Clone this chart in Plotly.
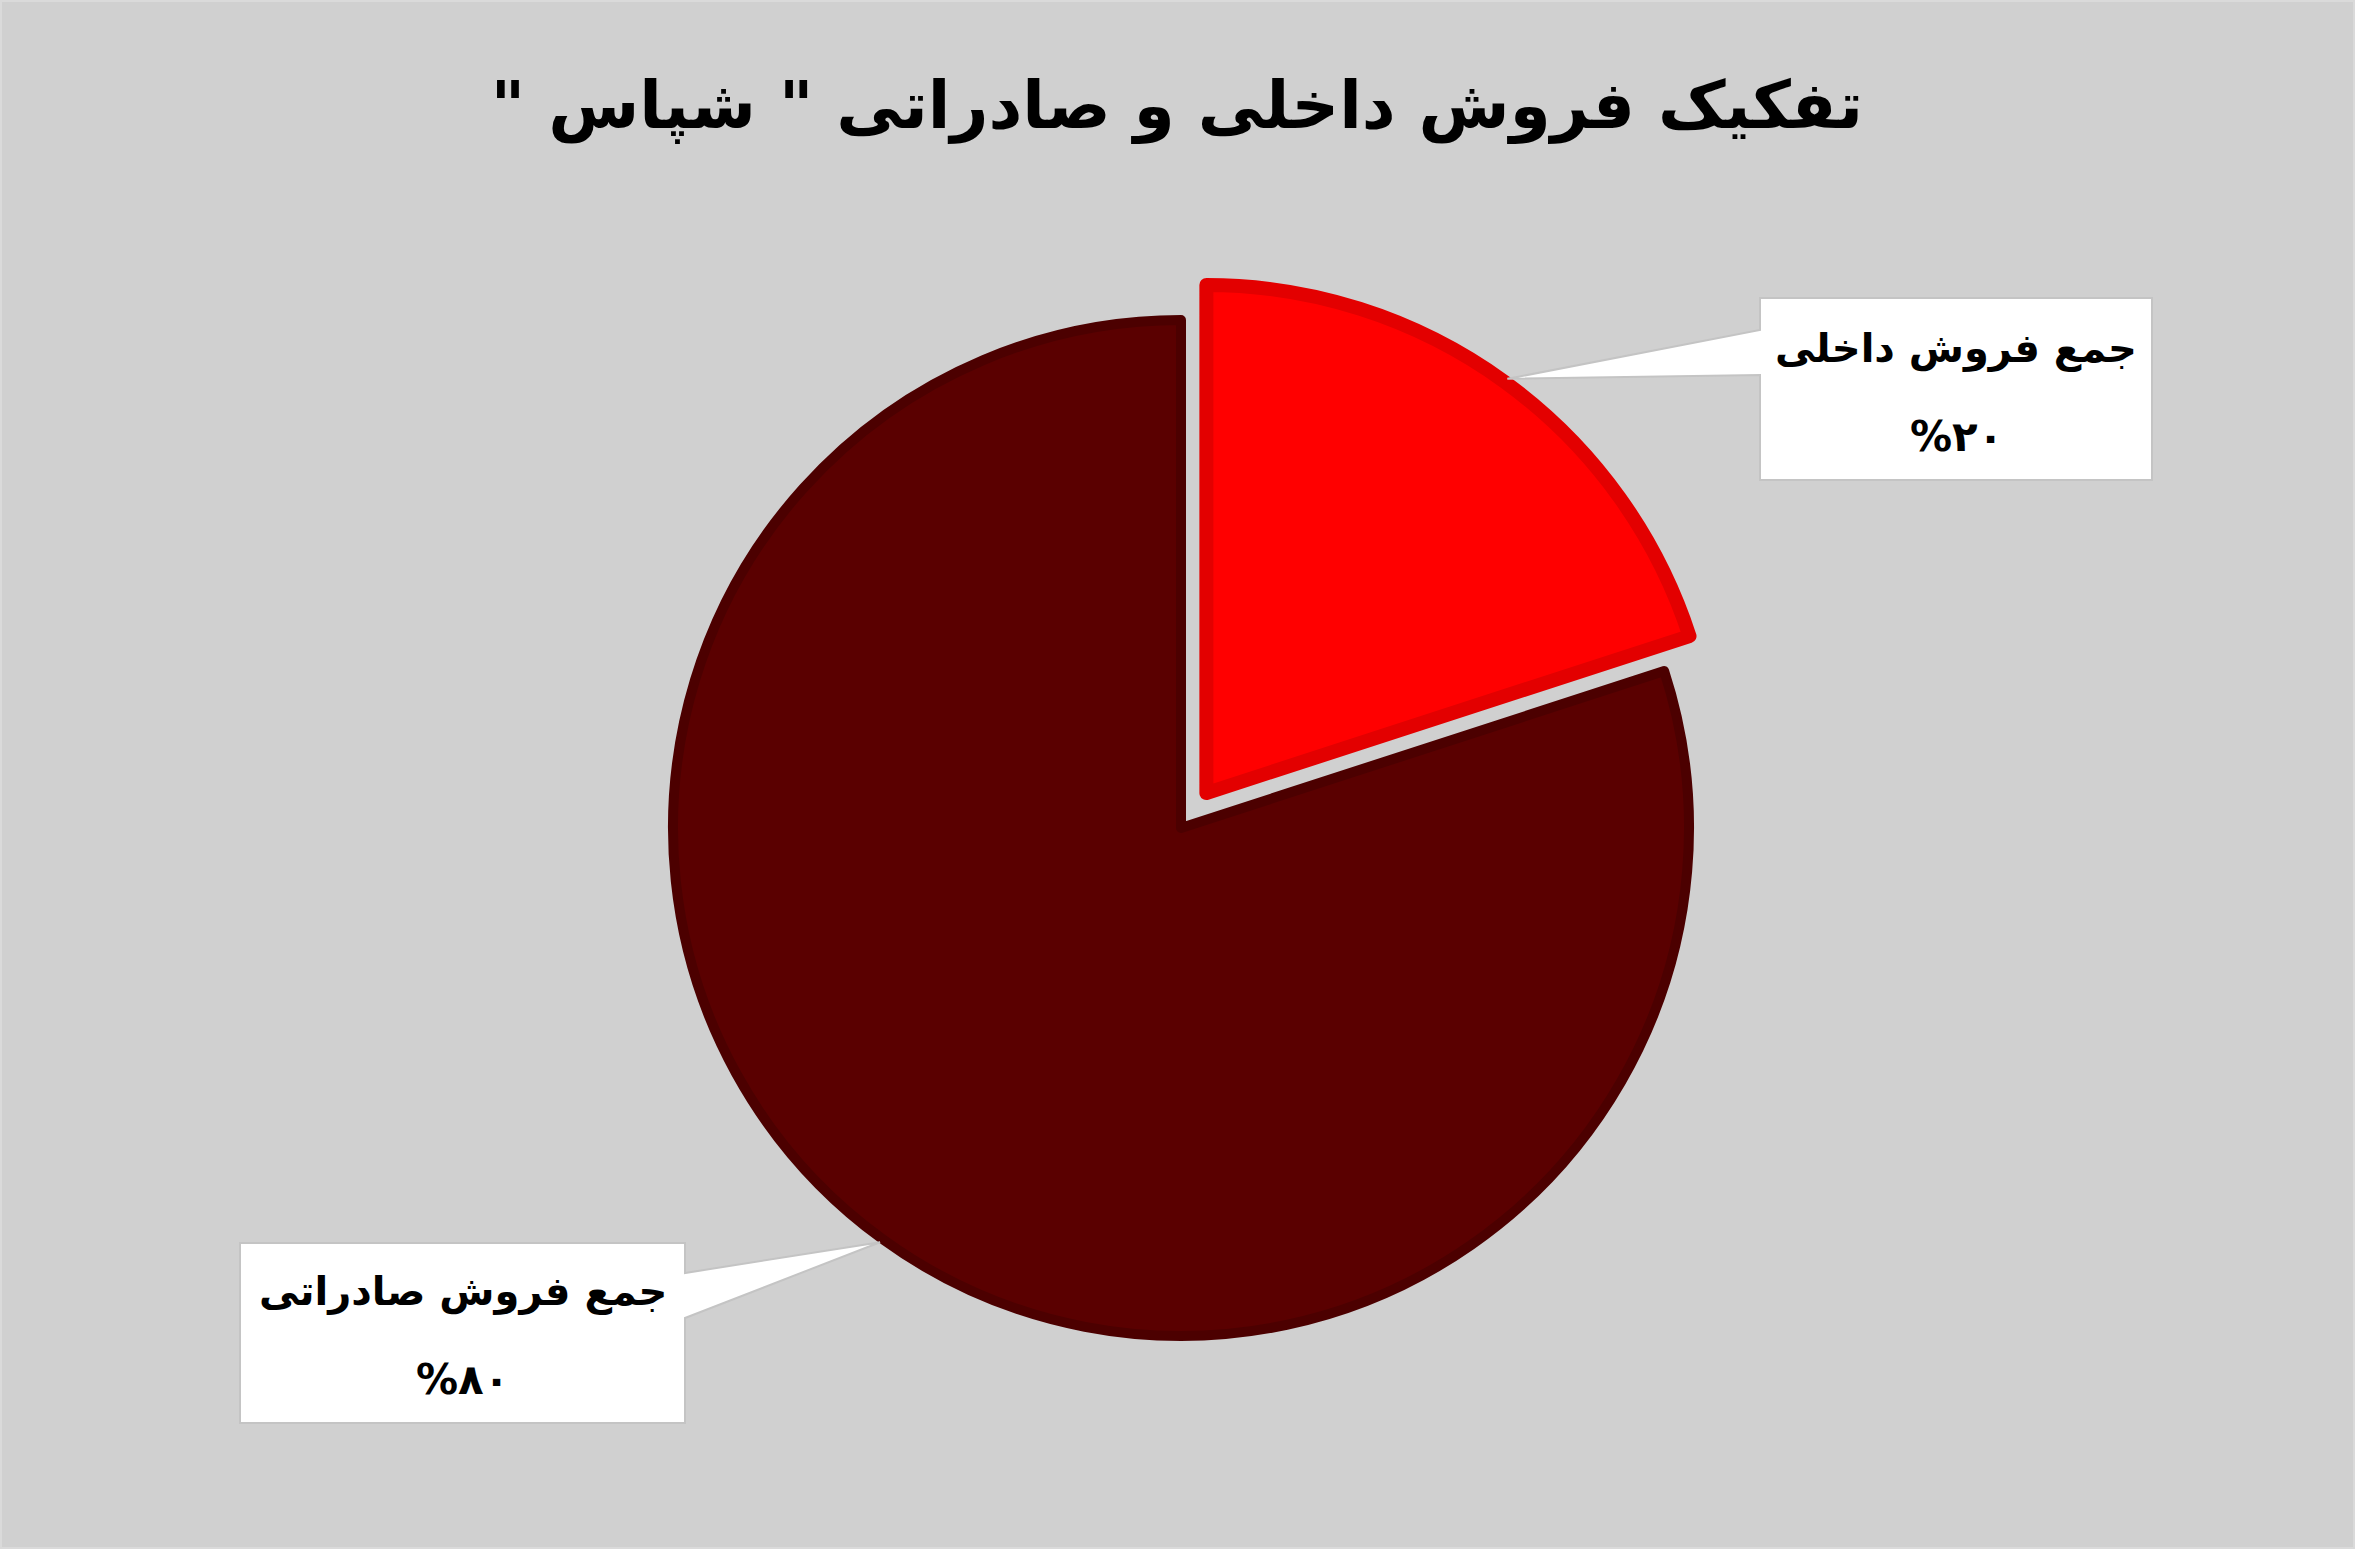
import math
import plotly.graph_objects as go

# Chart data
labels = ["جمع فروش داخلی", "جمع فروش صادراتی"]
values = [20, 80]
slice_colors = ["#ff0000", "#5a0000"]
border_colors = ["#e30000", "#4c0000"]
pulls = [0.085, 0]
title_text = '\u200fتفکیک فروش داخلی و صادراتی " شپاس "\u200f'

W, H = 2355, 1549
# pie centre and radius in pixels
cx, cy, r = 1181, 828, 508

fa_digits = str.maketrans("0123456789", "۰۱۲۳۴۵۶۷۸۹")


def px_x(x):
    return x / W


def px_y(y):
    return 1 - y / H


total = sum(values)
half = r * (1 + max(pulls))

fig = go.Figure(go.Pie(
    labels=labels,
    values=values,
    sort=False,
    direction="clockwise",
    rotation=0,
    pull=pulls,
    textinfo="none",
    hoverinfo="label+percent",
    marker=dict(colors=slice_colors, line=dict(color=border_colors, width=[14, 10])),
    domain=dict(x=[px_x(cx - half), px_x(cx + half)], y=[px_y(cy + half), px_y(cy - half)]),
    showlegend=False,
))


# tip of each callout: middle of the slice, on its outer edge
def tip(i):
    start = sum(values[:i]) / total
    mid = (start + values[i] / total / 2) * 2 * math.pi
    d = r * (1 + pulls[i]) + 4
    return cx + d * math.sin(mid), cy - d * math.cos(mid)


def pt(x, y):
    return f"{px_x(x):.5f},{px_y(y):.5f}"


shapes = []

# callout for domestic sales (tail on the left side of the box)
x0, y0, x1, y1 = 1760, 298, 2152, 480
tx, ty = tip(0)
path = (f"M {pt(x0, y0)} L {pt(x1, y0)} L {pt(x1, y1)} L {pt(x0, y1)} "
        f"L {pt(x0, 375)} L {pt(tx, ty)} L {pt(x0, 330)} Z")
shapes.append(dict(type="path", path=path, xref="paper", yref="paper",
                   fillcolor="white", line=dict(color="#c4c4c4", width=2)))
box_text = [((x0 + x1) / 2, 348), ((x0 + x1) / 2, 436)]

# callout for export sales (tail on the right side of the box)
x0, y0, x1, y1 = 240, 1243, 685, 1423
tx, ty = tip(1)
path = (f"M {pt(x0, y0)} L {pt(x1, y0)} L {pt(x1, 1273)} L {pt(tx, ty)} "
        f"L {pt(x1, 1318)} L {pt(x1, y1)} L {pt(x0, y1)} Z")
shapes.append(dict(type="path", path=path, xref="paper", yref="paper",
                   fillcolor="white", line=dict(color="#c4c4c4", width=2)))
box_text += [((x0 + x1) / 2, 1291), ((x0 + x1) / 2, 1379)]

# thin outer frame
shapes.append(dict(type="rect", xref="paper", yref="paper", x0=0, y0=0, x1=1, y1=1,
                   line=dict(color="#dadada", width=4), layer="below"))

annotations = []
for i, lab in enumerate(labels):
    pct = f"%{round(values[i] / total * 100)}".translate(fa_digits)
    (lx, ly), (vx, vy) = box_text[2 * i], box_text[2 * i + 1]
    annotations.append(dict(text=lab, x=px_x(lx), y=px_y(ly), xref="paper", yref="paper",
                            showarrow=False, xanchor="center", yanchor="middle",
                            font=dict(family="DejaVu Sans", size=40, color="black", weight="bold")))
    annotations.append(dict(text=pct, x=px_x(vx), y=px_y(vy), xref="paper", yref="paper",
                            showarrow=False, xanchor="center", yanchor="middle",
                            font=dict(family="DejaVu Sans", size=42, color="black", weight="bold")))

fig.update_layout(
    width=W, height=H,
    margin=dict(l=0, r=0, t=0, b=0),
    paper_bgcolor="#d0d0d0",
    plot_bgcolor="#d0d0d0",
    title=dict(text=title_text, x=px_x(1177), y=px_y(105), xanchor="center", yanchor="middle",
               font=dict(family="DejaVu Sans", size=66, color="black", weight="bold")),
    shapes=shapes,
    annotations=annotations,
)

fig.write_html("out.html", config={"displayModeBar": False},
               post_script="document.body.style.margin='0';")
